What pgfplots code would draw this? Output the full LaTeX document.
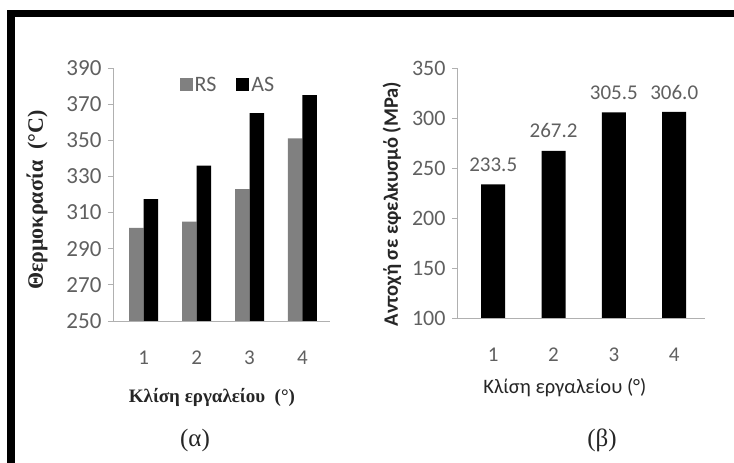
\documentclass[border=0pt]{standalone}
\usepackage{pgfplots}
\pgfplotsset{compat=1.18}
\usepackage{fontspec}
\setmainfont{Liberation Serif}
\setsansfont{Carlito}
\definecolor{tickgray}{HTML}{606060}
\definecolor{axisgray}{HTML}{B0B0B0}
\definecolor{rsgray}{HTML}{808080}
\definecolor{labgray}{HTML}{262626}

\pgfplotsset{
  mystyle/.style={
    scale only axis,
    axis x line*=bottom, axis y line*=left,
    axis line style={axisgray, line width=0.9pt},
    ytick style={axisgray, line width=0.9pt},
    major tick length=5pt,
    tick align=outside,
    xtick style={draw=none},
    /pgf/number format/assume math mode=true,
    tick label style={font=\sffamily\fontsize{23}{26}\selectfont, text=tickgray},
    xtick={1,2,3,4},
    xticklabel style={anchor=center, yshift=-32pt},
    yticklabel style={xshift=-3pt},
  }
}

\begin{document}
\begin{tikzpicture}[x=1pt,y=1pt]
\fill[white] (0,0) rectangle (734,463);
\fill[black] (7,446) rectangle (734,453);
\fill[black] (7,0) rectangle (15,453);

\begin{axis}[mystyle,
  at={(113pt,142pt)}, anchor=south west,
  width=217pt, height=253pt,
  ymin=250, ymax=390, ytick={250,270,...,390},
  xmin=0.42, xmax=4.52,
  ybar=0pt, bar width=14.5pt,
  xticklabel style={font=\sffamily\fontsize{21}{24}\selectfont},
  xlabel={Κλίση εργαλείου\ \ (°)},
  xlabel style={at={(axis description cs:0.456,-0.304)}, anchor=center,
    font=\bfseries\fontsize{19}{22}\selectfont, text=labgray},
  ylabel={Θερμοκρασία\ \ (°C)},
  ylabel style={at={(axis description cs:-0.35,0.478)}, anchor=center,
    font=\bfseries\fontsize{22}{24}\selectfont, text=labgray},
  legend style={at={(axis description cs:0.53,0.933)}, anchor=center,
    draw=none, fill=none, legend columns=2,
    font=\sffamily\fontsize{22}{26}\selectfont, text=tickgray,
    /tikz/every even column/.append style={column sep=18pt}},
  legend image code/.code={\fill[#1] (0pt,-6.5pt) rectangle (13pt,6.5pt);},
]
\addplot[fill=rsgray, draw=none] coordinates {(1,301.5) (2,305) (3,323) (4,351)};
\addplot[fill=black, draw=none] coordinates {(1,317.5) (2,336) (3,365) (4,375)};
\legend{RS,AS}
\end{axis}

\begin{axis}[mystyle,
  at={(457pt,145pt)}, anchor=south west,
  width=248pt, height=250pt,
  ymin=100, ymax=350, ytick={100,150,...,350},
  xmin=0.4, xmax=4.51,
  ybar, bar width=24pt,
  tick label style={font=\sffamily\fontsize{22}{25}\selectfont, text=tickgray},
  xticklabel style={font=\sffamily\fontsize{21}{24}\selectfont},
  nodes near coords, point meta=explicit symbolic,
  every node near coord/.style={anchor=center, yshift=20pt,
    font=\sffamily\fontsize{21}{24}\selectfont, text=tickgray},
  xlabel={Κλίση εργαλείου (°)},
  xlabel style={at={(axis description cs:0.435,-0.28)}, anchor=center,
    font=\sffamily\fontsize{20.5}{24}\selectfont, text=labgray},
  ylabel={Αντοχή σε εφελκυσμό (MPa)},
  ylabel style={at={(axis description cs:-0.262,0.456)}, anchor=center,
    font=\sffamily\bfseries\fontsize{20.5}{24}\selectfont, text=labgray},
]
\addplot[fill=black, draw=none] coordinates {(1,233.5)[233.5] (2,267.2)[267.2] (3,305.5)[305.5] (4,306.0)[306.0]};
\end{axis}

\node[font=\fontsize{25}{28}\selectfont, text=labgray] at (195,23) {(α)};
\node[font=\fontsize{25}{28}\selectfont, text=labgray] at (602,23) {(β)};
\end{tikzpicture}
\end{document}
